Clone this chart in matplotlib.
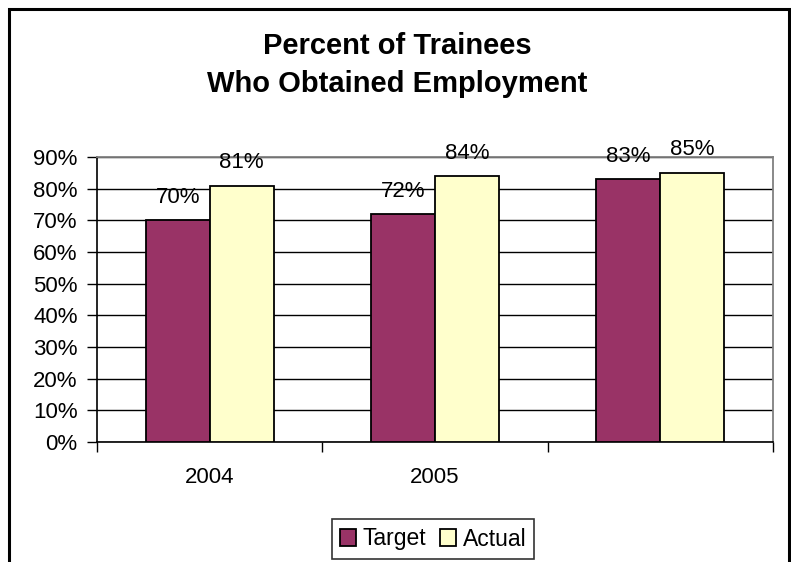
import numpy as np
import matplotlib.pyplot as plt
from matplotlib.patches import Rectangle

plt.rcParams['font.family'] = ['Liberation Sans', 'DejaVu Sans']

years = ['2004', '2005', '']
target = [70, 72, 83]
actual = [81, 84, 85]

fig = plt.figure(figsize=(7.91, 5.62), dpi=100)
ax = fig.add_axes([0.1226, 0.2135, 0.8546, 0.5071])

x = np.arange(len(years))
w = 0.284
b1 = ax.bar(x - w / 2, target, w, color='#993366', edgecolor='black', linewidth=1.3, label='Target', zorder=3)
b2 = ax.bar(x + w / 2, actual, w, color='#FFFFCC', edgecolor='black', linewidth=1.3, label='Actual', zorder=3)

for bars, vals in ((b1, target), (b2, actual)):
    for r, v in zip(bars, vals):
        ax.annotate(f'{v}%', (r.get_x() + r.get_width() / 2, v), xytext=(0, 12.5),
                    textcoords='offset points', ha='center', va='baseline', fontsize=16)

ax.set_xlim(-0.5, 2.5)
ax.set_ylim(0, 90)
ax.set_yticks(range(0, 91, 10))
ax.set_yticklabels([f'{t}%' for t in range(0, 91, 10)])
ax.yaxis.grid(True, color='black', linewidth=1)
ax.set_axisbelow(True)

ax.set_xticks(x)
ax.set_xticklabels(years)
ax.set_xticks(np.arange(-0.5, 2.6, 1), minor=True)
ax.tick_params(axis='x', which='major', length=0, pad=18, labelsize=16)
ax.tick_params(axis='x', which='minor', length=7, width=1, color='black')
ax.tick_params(axis='y', length=7, width=1, pad=7, labelsize=16)

for s in ('top', 'right'):
    ax.spines[s].set_color('#808080')
    ax.spines[s].set_linewidth(1.3)
for s in ('left', 'bottom'):
    ax.spines[s].set_color('black')
    ax.spines[s].set_linewidth(1.2)

fig.text(0.502, 1 - 65 / 562, 'Percent of Trainees\nWho Obtained Employment', ha='center', va='center',
         fontsize=21, fontweight='bold', linespacing=1.45)

leg = fig.legend(handles=[b1, b2], loc='center', bbox_to_anchor=(433 / 791, 1 - 539 / 562),
                 ncol=2, fontsize=16.5, frameon=True, fancybox=False, handlelength=0.7,
                 handleheight=0.7, handletextpad=0.3, columnspacing=0.6, borderpad=0.35)
leg.get_frame().set_edgecolor('black')
leg.get_frame().set_linewidth(1.2)

# outer chart border, open at the bottom edge of the image
fig.patches.append(Rectangle((9 / 791, -0.05), 780 / 791, 1.05 - 9 / 562, transform=fig.transFigure,
                             fill=False, edgecolor='black', linewidth=2.2))

fig.savefig('out.png', dpi=100)
